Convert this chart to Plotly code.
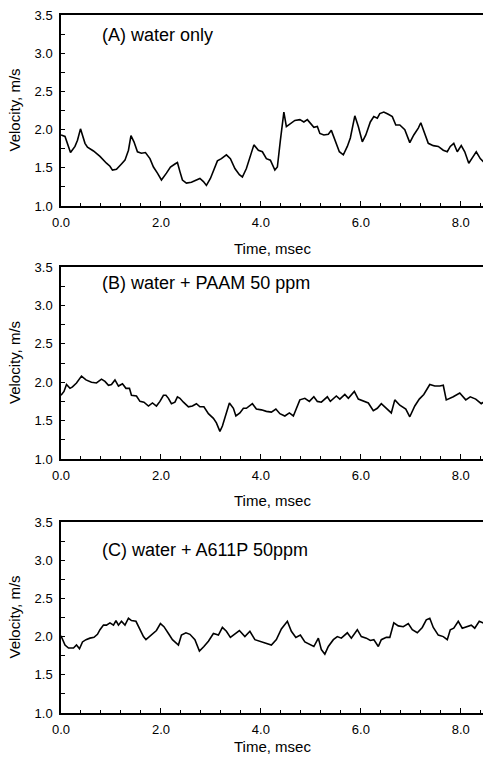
import plotly.graph_objects as go

# ---------------- data ----------------
time_a = [0, 0.08, 0.19, 0.28, 0.33, 0.39, 0.48, 0.53, 0.65, 0.78, 0.91, 0.98, 1.03, 1.11, 1.21,
          1.28, 1.35, 1.40, 1.46, 1.53, 1.61, 1.69, 1.78, 1.85, 1.93, 2.01, 2.11, 2.19, 2.28, 2.33,
          2.38, 2.43, 2.51, 2.61, 2.71, 2.78, 2.85, 2.91, 2.99, 3.05, 3.13, 3.21, 3.31, 3.39, 3.48,
          3.57, 3.63, 3.71, 3.86, 3.95, 4.03, 4.11, 4.19, 4.28, 4.33, 4.39, 4.46, 4.51, 4.57, 4.68,
          4.78, 4.86, 4.93, 4.99, 5.06, 5.13, 5.18, 5.26, 5.35, 5.41, 5.48, 5.57, 5.65, 5.73, 5.79,
          5.88, 5.95, 6.03, 6.10, 6.19, 6.26, 6.33, 6.38, 6.46, 6.55, 6.63, 6.70, 6.78, 6.88, 6.98,
          7.06, 7.15, 7.20, 7.28, 7.35, 7.45, 7.55, 7.65, 7.73, 7.79, 7.86, 7.93, 8.01, 8.08, 8.16,
          8.25, 8.31, 8.39, 8.48]
vel_a = [1.93, 1.91, 1.70, 1.78, 1.86, 2.01, 1.82, 1.77, 1.72, 1.65, 1.56, 1.52, 1.47, 1.48, 1.55,
         1.60, 1.73, 1.92, 1.84, 1.71, 1.69, 1.70, 1.62, 1.51, 1.43, 1.34, 1.43, 1.51, 1.55, 1.57,
         1.45, 1.34, 1.30, 1.31, 1.34, 1.36, 1.32, 1.27, 1.36, 1.47, 1.59, 1.62, 1.67, 1.62, 1.49,
         1.41, 1.38, 1.49, 1.80, 1.73, 1.71, 1.62, 1.60, 1.47, 1.51, 1.86, 2.23, 2.04, 2.07, 2.12,
         2.13, 2.10, 2.13, 2.08, 2.03, 2.04, 1.95, 1.93, 1.94, 1.99, 1.86, 1.71, 1.67, 1.78, 1.89,
         2.18, 2.04, 1.84, 1.93, 2.10, 2.17, 2.15, 2.21, 2.23, 2.20, 2.17, 2.06, 2.06, 2.00, 1.83,
         1.93, 2.02, 2.09, 1.93, 1.82, 1.79, 1.78, 1.73, 1.71, 1.78, 1.82, 1.71, 1.79, 1.71, 1.56,
         1.65, 1.71, 1.62, 1.56]

time_b = [0, 0.06, 0.11, 0.18, 0.23, 0.31, 0.41, 0.50, 0.61, 0.71, 0.81, 0.88, 0.95, 1.01, 1.08,
          1.15, 1.23, 1.30, 1.37, 1.41, 1.51, 1.58, 1.66, 1.75, 1.83, 1.91, 1.98, 2.05, 2.10, 2.15,
          2.21, 2.28, 2.33, 2.38, 2.45, 2.55, 2.63, 2.71, 2.78, 2.86, 2.95, 3.05, 3.11, 3.18, 3.23,
          3.30, 3.37, 3.45, 3.50, 3.58, 3.65, 3.71, 3.83, 3.91, 4.01, 4.11, 4.21, 4.30, 4.38, 4.48,
          4.57, 4.65, 4.71, 4.78, 4.88, 4.97, 5.06, 5.13, 5.21, 5.33, 5.39, 5.51, 5.58, 5.68, 5.75,
          5.87, 5.95, 6.05, 6.15, 6.25, 6.33, 6.41, 6.51, 6.61, 6.68, 6.78, 6.90, 6.98, 7.08, 7.17,
          7.26, 7.38, 7.48, 7.58, 7.65, 7.71, 7.85, 7.98, 8.10, 8.19, 8.30, 8.41, 8.48]
vel_b = [1.83, 1.88, 1.97, 1.92, 1.94, 1.99, 2.08, 2.03, 2.00, 1.99, 2.04, 2.01, 1.96, 1.97, 2.03,
         1.95, 1.98, 1.92, 1.92, 1.83, 1.82, 1.75, 1.74, 1.69, 1.73, 1.69, 1.75, 1.83, 1.83, 1.79,
         1.72, 1.74, 1.81, 1.79, 1.74, 1.68, 1.69, 1.72, 1.68, 1.68, 1.59, 1.53, 1.47, 1.36, 1.43,
         1.59, 1.73, 1.66, 1.56, 1.60, 1.66, 1.66, 1.72, 1.65, 1.64, 1.62, 1.61, 1.65, 1.59, 1.56,
         1.60, 1.56, 1.65, 1.77, 1.79, 1.75, 1.81, 1.75, 1.74, 1.81, 1.75, 1.82, 1.78, 1.84, 1.79,
         1.88, 1.78, 1.76, 1.73, 1.63, 1.66, 1.72, 1.66, 1.60, 1.77, 1.70, 1.65, 1.55, 1.69, 1.78,
         1.84, 1.97, 1.95, 1.95, 1.96, 1.77, 1.81, 1.86, 1.77, 1.81, 1.78, 1.72, 1.75]

time_c = [0, 0.08, 0.15, 0.25, 0.31, 0.37, 0.43, 0.50, 0.58, 0.66, 0.73, 0.78, 0.85, 0.91, 0.98,
          1.05, 1.10, 1.15, 1.21, 1.28, 1.35, 1.41, 1.50, 1.57, 1.65, 1.70, 1.77, 1.83, 1.91, 1.99,
          2.06, 2.15, 2.23, 2.35, 2.41, 2.50, 2.58, 2.68, 2.77, 2.86, 2.95, 3.05, 3.15, 3.23, 3.31,
          3.39, 3.48, 3.57, 3.68, 3.78, 3.88, 4.01, 4.11, 4.21, 4.31, 4.41, 4.53, 4.61, 4.70, 4.79,
          4.88, 4.98, 5.06, 5.15, 5.21, 5.28, 5.35, 5.45, 5.53, 5.61, 5.73, 5.81, 5.93, 6.01, 6.11,
          6.19, 6.26, 6.35, 6.41, 6.51, 6.58, 6.66, 6.75, 6.85, 6.95, 7.03, 7.13, 7.23, 7.31, 7.38,
          7.45, 7.55, 7.65, 7.73, 7.79, 7.86, 7.95, 8.03, 8.11, 8.21, 8.28, 8.37, 8.48]
vel_c = [2.01, 1.89, 1.85, 1.85, 1.89, 1.84, 1.93, 1.96, 1.98, 1.99, 2.03, 2.09, 2.15, 2.15, 2.18,
         2.15, 2.21, 2.15, 2.20, 2.15, 2.24, 2.21, 2.20, 2.11, 2.00, 1.96, 2.00, 2.04, 2.08, 2.17,
         2.13, 2.04, 1.96, 1.89, 2.02, 2.05, 2.03, 1.96, 1.81, 1.87, 1.94, 2.04, 2.02, 2.12, 2.07,
         1.99, 2.04, 2.08, 2.00, 2.07, 1.96, 1.93, 1.91, 1.89, 1.96, 2.10, 2.20, 2.07, 1.99, 2.02,
         1.93, 1.90, 1.87, 1.98, 1.83, 1.77, 1.87, 1.96, 2.00, 1.98, 2.05, 1.98, 2.09, 2.00, 1.98,
         1.95, 1.96, 1.87, 1.96, 1.99, 1.99, 2.18, 2.14, 2.13, 2.17, 2.09, 2.05, 2.12, 2.22, 2.24,
         2.12, 2.02, 2.00, 1.96, 2.09, 2.11, 2.20, 2.11, 2.13, 2.15, 2.11, 2.20, 2.17]

panel_labels = ["(A) water only", "(B) water + PAAM 50 ppm", "(C) water + A611P 50ppm"]
x_title = "Time, msec"
y_title = "Velocity, m/s"
x_tickvals = [0, 2, 4, 6, 8]
x_ticktext = ["0.0", "2.0", "4.0", "6.0", "8.0"]
y_tickvals = [1.0, 1.5, 2.0, 2.5, 3.0, 3.5]
y_ticktext = ["1.0", "1.5", "2.0", "2.5", "3.0", "3.5"]

# ---------------- layout geometry ----------------
W, H = 485, 758
ML, MR, MT, MB = 61, 2, 15, 45
ph = H - MT - MB
def ydom(top_px, bot_px):
    return [(H - MB - bot_px) / ph, (H - MB - top_px) / ph]

panel_px = [(15, 206), (267, 459), (522, 713)]
domains = [ydom(a, b) for a, b in panel_px]
title_y_px = [35, 283, 550]
xtitle_y_px = [248, 500, 746]

FONT = "Liberation Sans, Arial, Helvetica, sans-serif"
fig = go.Figure()
series = [(time_a, vel_a), (time_b, vel_b), (time_c, vel_c)]
for i, (t, v) in enumerate(series):
    sfx = "" if i == 0 else str(i + 1)
    fig.add_trace(go.Scatter(x=t, y=v, mode="lines", line=dict(color="black", width=1.6),
                             xaxis="x" + sfx, yaxis="y" + sfx, showlegend=False, hoverinfo="skip"))
    xa = dict(domain=[0, 1], range=[0, 8.445], anchor="y" + sfx, automargin=False,
              showline=True, linecolor="black", linewidth=1.5, mirror=True,
              showgrid=False, zeroline=False,
              ticks="inside", ticklen=5, tickwidth=1.2, tickcolor="black",
              tickvals=x_tickvals, ticktext=x_ticktext,
              minor=dict(tickvals=[round(0.4 * k, 1) for k in range(22)], ticks="inside",
                         ticklen=3, tickwidth=1, tickcolor="black"),
              ticklabelstandoff=4,
              tickfont=dict(family=FONT, size=13, color="black"))
    ya = dict(domain=domains[i], range=[1.0, 3.5], anchor="x" + sfx, automargin=False,
              showline=True, linecolor="black", linewidth=1.5,
              showgrid=False, zeroline=False,
              ticks="inside", ticklen=4, tickwidth=1.2, tickcolor="black",
              tickvals=y_tickvals, ticktext=y_ticktext,
              minor=dict(tickvals=[1.25, 1.75, 2.25, 2.75, 3.25], ticks="inside",
                         ticklen=4, tickwidth=1, tickcolor="black"),
              ticklabelstandoff=4,
              tickfont=dict(family=FONT, size=13, color="black"))
    fig.layout["xaxis" + sfx] = xa
    fig.layout["yaxis" + sfx] = ya
    fig.add_annotation(text=panel_labels[i], xref="paper", yref="paper",
                       x=(100 - ML) / (W - ML - MR), xanchor="left",
                       y=(H - MB - title_y_px[i]) / ph, yanchor="middle", showarrow=False,
                       font=dict(family=FONT, size=18, color="black"))
    fig.add_annotation(text=x_title, xref="paper", yref="paper", x=0.5, xanchor="center",
                       y=(H - MB - xtitle_y_px[i]) / ph, yanchor="middle", showarrow=False,
                       font=dict(family=FONT, size=15, color="black"))
    a, b = panel_px[i]
    fig.add_annotation(text=y_title, xref="paper", yref="paper", textangle=-90,
                       x=(14 - ML) / (W - ML - MR), xanchor="center",
                       y=(H - MB - (a + b) / 2) / ph, yanchor="middle", showarrow=False,
                       font=dict(family=FONT, size=15, color="black"))

fig.update_layout(width=W, height=H, margin=dict(l=ML, r=MR, t=MT, b=MB, autoexpand=False),
                  paper_bgcolor="white", plot_bgcolor="white",
                  font=dict(family=FONT, color="black"))
fig.write_html("out.html", config={"displayModeBar": False},
               post_script="document.body.style.margin='0px';document.body.style.overflow='hidden';")
